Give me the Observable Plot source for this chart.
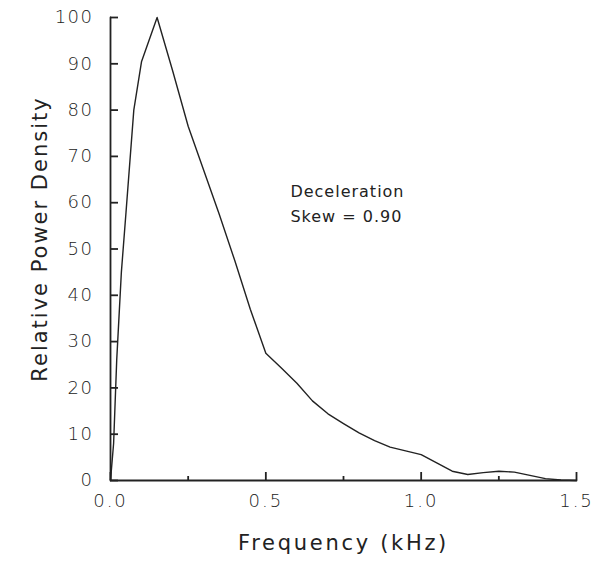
<!DOCTYPE html>
<html><head><meta charset="utf-8">
<script src="https://cdn.jsdelivr.net/npm/d3@7"></script>
<script src="https://cdn.jsdelivr.net/npm/@observablehq/plot@0.6"></script>
<style>
body{margin:0;background:#fff}
g[aria-label="y-axis tick label"] text{letter-spacing:1.5px}
g[aria-label="x-axis tick label"] text{letter-spacing:2px}
g.ttlx text{letter-spacing:2.7px}
g.ttly text{letter-spacing:2px}
g.ann text{letter-spacing:1px}
</style>
</head><body><div id="chart"></div>
<script>
const freq  = [0, 0.01, 0.02, 0.035, 0.05, 0.075, 0.1, 0.15, 0.2, 0.25, 0.3, 0.35, 0.4, 0.45, 0.5, 0.55, 0.6, 0.65, 0.7, 0.75, 0.8, 0.85, 0.9, 0.95, 1.0, 1.05, 1.1, 1.15, 1.2, 1.25, 1.3, 1.35, 1.4, 1.45, 1.5];
const power = [0, 8, 26, 45, 58, 80, 90.5, 100, 88.5, 76.5, 67, 57.5, 47.5, 37, 27.5, 24.3, 21, 17.2, 14.4, 12.3, 10.3, 8.6, 7.2, 6.4, 5.6, 3.8, 2.0, 1.3, 1.7, 2.0, 1.8, 1.1, 0.4, 0.1, 0];
const yTicks = [0, 10, 20, 30, 40, 50, 60, 70, 80, 90, 100];
const xMajorTicks = [0, 0.5, 1.0, 1.5];
const xMinorTicks = [0.25, 0.75, 1.25];
const xDomain = [0, 1.5];
const yDomain = [0, 100];
const annotation = ["Deceleration", "Skew = 0.90"];
const xTitle = "Frequency (kHz)";
const yTitle = "Relative Power Density";

const data = freq.map((f, i) => ({f, p: power[i]}));
const axisPath = [{f: xDomain[0], p: yDomain[1]}, {f: xDomain[0], p: yDomain[0]}, {f: xDomain[1], p: yDomain[0]}];
const ink = "#222222";
const W = 604, H = 561, mT = 17, mL = 110, mR = 28, mB = 81;
const frameW = W - mL - mR, frameH = H - mT - mB;

const chart = Plot.plot({
  width: W, height: H,
  marginTop: mT, marginLeft: mL, marginRight: mR, marginBottom: mB,
  style: {fontFamily: "DejaVu Sans", background: "#fff", color: ink, overflow: "visible"},
  x: {domain: xDomain},
  y: {domain: yDomain},
  marks: [
    Plot.line(axisPath, {x: "f", y: "p", stroke: ink, strokeWidth: 1.8}),
    Plot.tickY(yTicks, {y: d => d, stroke: ink, strokeWidth: 1.8, insetRight: frameW - 8}),
    Plot.tickX(xMajorTicks, {x: d => d, stroke: ink, strokeWidth: 1.8, insetTop: frameH - 8}),
    Plot.tickX(xMinorTicks, {x: d => d, stroke: ink, strokeWidth: 1.8, insetTop: frameH - 4}),
    Plot.axisY({ticks: yTicks, tickSize: 0, tickPadding: 17, tickFormat: d => String(d), fontSize: 18, fontWeight: 300, fill: ink, label: null}),
    Plot.axisX({ticks: xMajorTicks, tickSize: 0, tickPadding: 14, tickFormat: d3.format(".1f"), fontSize: 18, fontWeight: 300, fill: ink, label: null}),
    Plot.line(data, {x: "f", y: "p", stroke: ink, strokeWidth: 1.4}),
    Plot.text([annotation.join("\n")], {x: 0.579, y: 65.1, text: d => d, textAnchor: "start", lineAnchor: "top", lineHeight: 1.56, fontSize: 16, fill: ink, className: "ann"}),
    Plot.text([xTitle], {frameAnchor: "bottom", dy: 55, lineAnchor: "top", text: d => d, fontSize: 21, fill: ink, className: "ttlx"}),
    Plot.text([yTitle], {frameAnchor: "left", textAnchor: "middle", dx: -70, dy: -10, rotate: -90, text: d => d, fontSize: 21, fill: ink, className: "ttly"})
  ]
});
document.getElementById("chart").appendChild(chart);
</script>
</body></html>
